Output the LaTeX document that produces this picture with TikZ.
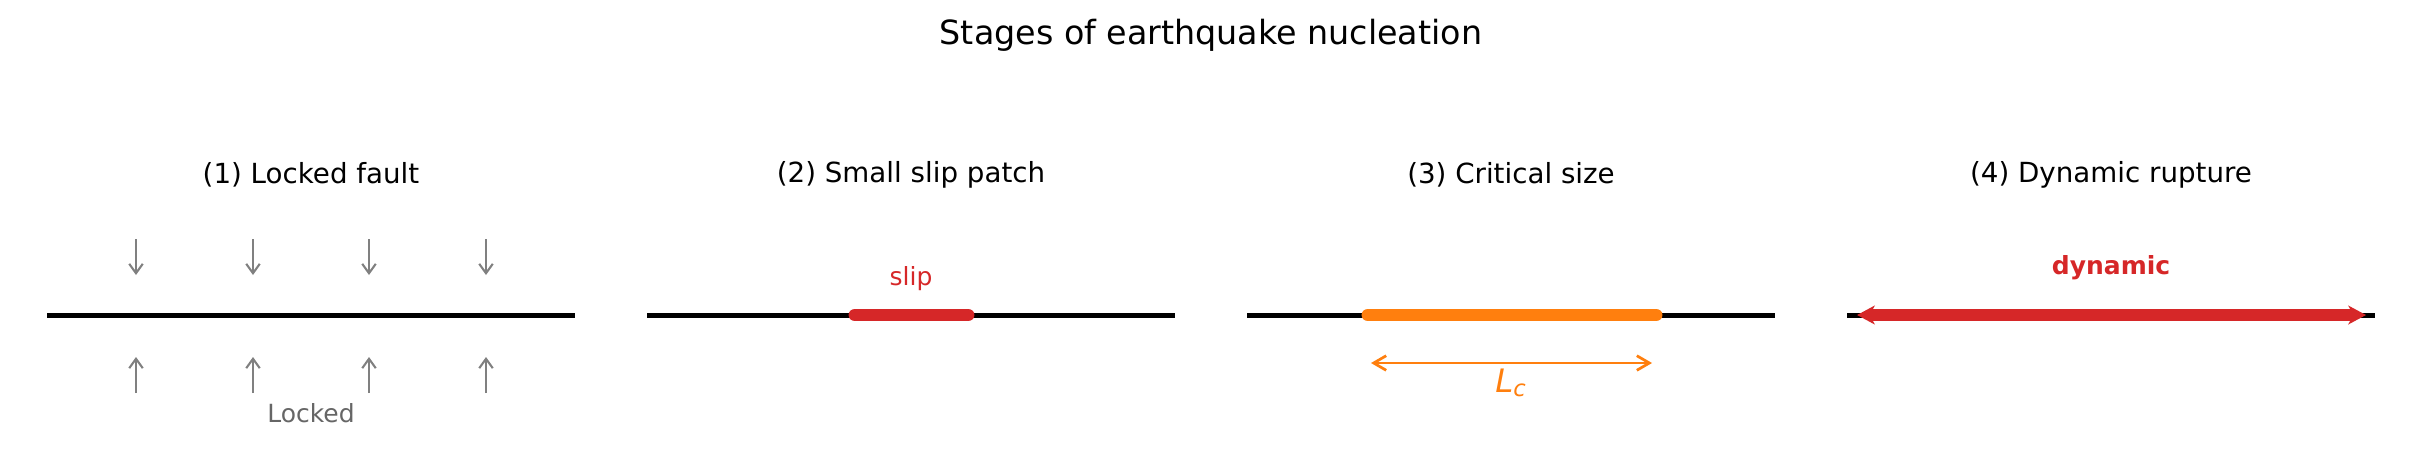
\documentclass[tikz,border=0pt]{standalone}
\usepackage{fontspec}
\setmainfont{DejaVu Sans}
\usetikzlibrary{positioning}
\usetikzlibrary{arrows.meta}
\definecolor{rosso}{HTML}{D62728}
\definecolor{arancio}{HTML}{FF7F0E}
\definecolor{grigio}{HTML}{808080}
\definecolor{grigioT}{HTML}{666666}
\begin{document}
\begin{tikzpicture}[x=0.48pt,y=-0.48pt,inner sep=0pt,
titolo/.style={font=\fontsize{16}{18}\selectfont},
pannello/.style={font=\fontsize{13.3}{15}\selectfont},
etichetta/.style={font=\fontsize{12}{14}\selectfont},
faglia/.style={draw=black,line width=2.4pt},
freccia/.style={draw=grigio,line width=1pt,-{Straight Barb[length=4.5pt,width=6.5pt]}},
patch/.style={line width=6.2pt,line cap=round},
misura/.style={draw=arancio,line width=1.3pt,{Straight Barb[length=6pt,width=7pt]}-{Straight Barb[length=6pt,width=7pt]}},
rottura/.style={draw=rosso,line width=6pt,{Stealth[length=8.5pt,width=9pt,inset=2.5pt]}-{Stealth[length=8.5pt,width=9pt,inset=2.5pt]}}
]
\useasboundingbox (0,0) rectangle (2423,453);
\node[titolo](tit) at (1211,35){Stages of earthquake nucleation};
%-- faglie
\foreach \i/\cx in {1/311,2/911,3/1511,4/2111}{
  \coordinate (fA\i) at (\cx-264,315);
  \coordinate (fB\i) at (\cx+264,315);
  \draw[faglia] (fA\i) -- (fB\i);
}
%----
\node[pannello](t1) at (311,175){(1) Locked fault};
\foreach \dx in {-175,-58,58,175}{
  \coordinate (sA) at (311+\dx,239);
  \coordinate (sB) at (311+\dx,275);
  \draw[freccia] (sA) -- (sB);
  \coordinate (gA) at (311+\dx,393);
  \coordinate (gB) at (311+\dx,357);
  \draw[freccia] (gA) -- (gB);
}
\node[etichetta,text=grigioT](lock) at (311,413){Locked};
%----
\node[pannello](t2) at (911,175){(2) Small slip patch};
\coordinate (pA) at (855,315);
\coordinate (pB) at (968,315);
\draw[patch,rosso] (pA) -- (pB);
\node[etichetta,text=rosso](slip) at (911,279){slip};
%----
\node[pannello](t3) at (1511,175){(3) Critical size};
\coordinate (cA) at (1368,315);
\coordinate (cB) at (1656,315);
\draw[patch,arancio] (cA) -- (cB);
\coordinate (lA) at (1371,363);
\coordinate (lB) at (1652,363);
\coordinate (lM) at (1511,363);
\draw[misura] (lA) -- (lB);
\node[font=\fontsize{15.5}{17}\selectfont,text=arancio,below=2.5pt of lM](lc){\itshape L\textsubscript{c}};
%----
\node[pannello](t4) at (2111,175){(4) Dynamic rupture};
\coordinate (dA) at (1857,315);
\coordinate (dB) at (2366,315);
\draw[rottura] (dA) -- (dB);
\node[etichetta,text=rosso,font=\fontsize{12}{14}\selectfont\bfseries](dyn) at (2111,268){dynamic};
\end{tikzpicture}
\end{document}
